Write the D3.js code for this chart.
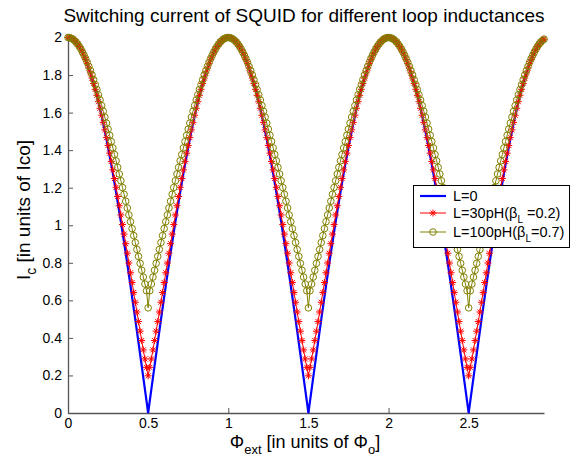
<!DOCTYPE html>
<html><head><meta charset="utf-8">
<script src="https://cdn.jsdelivr.net/npm/d3@7"></script>
<style>
body{margin:0;background:#fff}
text{font-family:"Liberation Sans",Arial,Helvetica,sans-serif;fill:#000}
</style>
</head><body>
<svg id="chart" width="571" height="463"></svg>
<script>
// flux step of the samples (in units of Phi_0)
const phiStep = 0.01;
const phiMax = 2.97;

// L = 0
const icL0 = [
2.000,1.999,1.996,1.991,1.984,1.975,1.965,1.952,1.937,1.921,1.902,1.882,1.860,1.836,1.810,1.782,1.753,1.721,1.689,1.654,1.618,1.580,1.541,1.500,1.458,1.414,1.369,1.323,1.275,1.226,1.176,1.124,1.072,1.018,0.964,0.908,0.852,0.794,0.736,0.677,0.618,0.558,0.497,0.436,0.375,0.313,0.251,0.188,0.126,0.063,0,
0.063,0.126,0.188,0.251,0.313,0.375,0.436,0.497,0.558,0.618,0.677,0.736,0.794,0.852,0.908,0.964,1.018,1.072,1.124,1.176,1.226,1.275,1.323,1.369,1.414,1.458,1.500,1.541,1.580,1.618,1.654,1.689,1.721,1.753,1.782,1.810,1.836,1.860,1.882,1.902,1.921,1.937,1.952,1.965,1.975,1.984,1.991,1.996,1.999,
2.000,1.999,1.996,1.991,1.984,1.975,1.965,1.952,1.937,1.921,1.902,1.882,1.860,1.836,1.810,1.782,1.753,1.721,1.689,1.654,1.618,1.580,1.541,1.500,1.458,1.414,1.369,1.323,1.275,1.226,1.176,1.124,1.072,1.018,0.964,0.908,0.852,0.794,0.736,0.677,0.618,0.558,0.497,0.436,0.375,0.313,0.251,0.188,0.126,0.063,0,
0.063,0.126,0.188,0.251,0.313,0.375,0.436,0.497,0.558,0.618,0.677,0.736,0.794,0.852,0.908,0.964,1.018,1.072,1.124,1.176,1.226,1.275,1.323,1.369,1.414,1.458,1.500,1.541,1.580,1.618,1.654,1.689,1.721,1.753,1.782,1.810,1.836,1.860,1.882,1.902,1.921,1.937,1.952,1.965,1.975,1.984,1.991,1.996,1.999,
2.000,1.999,1.996,1.991,1.984,1.975,1.965,1.952,1.937,1.921,1.902,1.882,1.860,1.836,1.810,1.782,1.753,1.721,1.689,1.654,1.618,1.580,1.541,1.500,1.458,1.414,1.369,1.323,1.275,1.226,1.176,1.124,1.072,1.018,0.964,0.908,0.852,0.794,0.736,0.677,0.618,0.558,0.497,0.436,0.375,0.313,0.251,0.188,0.126,0.063,0,
0.063,0.126,0.188,0.251,0.313,0.375,0.436,0.497,0.558,0.618,0.677,0.736,0.794,0.852,0.908,0.964,1.018,1.072,1.124,1.176,1.226,1.275,1.323,1.369,1.414,1.458,1.500,1.541,1.580,1.618,1.654,1.689,1.721,1.753,1.782,1.810,1.836,1.860,1.882,1.902,1.921,1.937,1.952,1.965,1.975,1.984,1.991
];

// L = 30 pH (beta_L = 0.2)
const icL30 = [
2.000,1.999,1.996,1.991,1.984,1.976,1.965,1.952,1.938,1.921,1.903,1.883,1.861,1.837,1.811,1.784,1.755,1.724,1.692,1.658,1.623,1.586,1.548,1.508,1.467,1.425,1.384,1.340,1.295,1.249,1.202,1.153,1.104,1.055,1.004,0.953,0.902,0.851,0.799,0.747,0.695,0.642,0.590,0.538,0.487,0.436,0.386,0.336,0.288,0.243,0.198,
0.243,0.288,0.336,0.386,0.436,0.487,0.538,0.590,0.642,0.695,0.747,0.799,0.851,0.902,0.953,1.004,1.055,1.104,1.153,1.202,1.249,1.295,1.340,1.384,1.425,1.467,1.508,1.548,1.586,1.623,1.658,1.692,1.724,1.755,1.784,1.811,1.837,1.861,1.883,1.903,1.921,1.938,1.952,1.965,1.976,1.984,1.991,1.996,1.999,
2.000,1.999,1.996,1.991,1.984,1.976,1.965,1.952,1.938,1.921,1.903,1.883,1.861,1.837,1.811,1.784,1.755,1.724,1.692,1.658,1.623,1.586,1.548,1.508,1.467,1.425,1.384,1.340,1.295,1.249,1.202,1.153,1.104,1.055,1.004,0.953,0.902,0.851,0.799,0.747,0.695,0.642,0.590,0.538,0.487,0.436,0.386,0.336,0.288,0.243,0.198,
0.243,0.288,0.336,0.386,0.436,0.487,0.538,0.590,0.642,0.695,0.747,0.799,0.851,0.902,0.953,1.004,1.055,1.104,1.153,1.202,1.249,1.295,1.340,1.384,1.425,1.467,1.508,1.548,1.586,1.623,1.658,1.692,1.724,1.755,1.784,1.811,1.837,1.861,1.883,1.903,1.921,1.938,1.952,1.965,1.976,1.984,1.991,1.996,1.999,
2.000,1.999,1.996,1.991,1.984,1.976,1.965,1.952,1.938,1.921,1.903,1.883,1.861,1.837,1.811,1.784,1.755,1.724,1.692,1.658,1.623,1.586,1.548,1.508,1.467,1.425,1.384,1.340,1.295,1.249,1.202,1.153,1.104,1.055,1.004,0.953,0.902,0.851,0.799,0.747,0.695,0.642,0.590,0.538,0.487,0.436,0.386,0.336,0.288,0.243,0.198,
0.243,0.288,0.336,0.386,0.436,0.487,0.538,0.590,0.642,0.695,0.747,0.799,0.851,0.902,0.953,1.004,1.055,1.104,1.153,1.202,1.249,1.295,1.340,1.384,1.425,1.467,1.508,1.548,1.586,1.623,1.658,1.692,1.724,1.755,1.784,1.811,1.837,1.861,1.883,1.903,1.921,1.938,1.952,1.965,1.976,1.984,1.991
];

// L = 100 pH (beta_L = 0.7)
const icL100 = [
2.000,1.999,1.996,1.991,1.984,1.976,1.965,1.953,1.939,1.923,1.906,1.888,1.868,1.846,1.824,1.801,1.775,1.749,1.723,1.695,1.667,1.637,1.607,1.576,1.544,1.512,1.479,1.446,1.412,1.377,1.343,1.308,1.273,1.237,1.201,1.165,1.128,1.092,1.055,1.019,0.982,0.945,0.908,0.871,0.834,0.797,0.760,0.724,0.687,0.651,0.560,
0.651,0.687,0.724,0.760,0.797,0.834,0.871,0.908,0.945,0.982,1.019,1.055,1.092,1.128,1.165,1.201,1.237,1.273,1.308,1.343,1.377,1.412,1.446,1.479,1.512,1.544,1.576,1.607,1.637,1.667,1.695,1.723,1.749,1.775,1.801,1.824,1.846,1.868,1.888,1.906,1.923,1.939,1.953,1.965,1.976,1.984,1.991,1.996,1.999,
2.000,1.999,1.996,1.991,1.984,1.976,1.965,1.953,1.939,1.923,1.906,1.888,1.868,1.846,1.824,1.801,1.775,1.749,1.723,1.695,1.667,1.637,1.607,1.576,1.544,1.512,1.479,1.446,1.412,1.377,1.343,1.308,1.273,1.237,1.201,1.165,1.128,1.092,1.055,1.019,0.982,0.945,0.908,0.871,0.834,0.797,0.760,0.724,0.687,0.651,0.560,
0.651,0.687,0.724,0.760,0.797,0.834,0.871,0.908,0.945,0.982,1.019,1.055,1.092,1.128,1.165,1.201,1.237,1.273,1.308,1.343,1.377,1.412,1.446,1.479,1.512,1.544,1.576,1.607,1.637,1.667,1.695,1.723,1.749,1.775,1.801,1.824,1.846,1.868,1.888,1.906,1.923,1.939,1.953,1.965,1.976,1.984,1.991,1.996,1.999,
2.000,1.999,1.996,1.991,1.984,1.976,1.965,1.953,1.939,1.923,1.906,1.888,1.868,1.846,1.824,1.801,1.775,1.749,1.723,1.695,1.667,1.637,1.607,1.576,1.544,1.512,1.479,1.446,1.412,1.377,1.343,1.308,1.273,1.237,1.201,1.165,1.128,1.092,1.055,1.019,0.982,0.945,0.908,0.871,0.834,0.797,0.760,0.724,0.687,0.651,0.560,
0.651,0.687,0.724,0.760,0.797,0.834,0.871,0.908,0.945,0.982,1.019,1.055,1.092,1.128,1.165,1.201,1.237,1.273,1.308,1.343,1.377,1.412,1.446,1.479,1.512,1.544,1.576,1.607,1.637,1.667,1.695,1.723,1.749,1.775,1.801,1.824,1.846,1.868,1.888,1.906,1.923,1.939,1.953,1.965,1.976,1.984,1.991
];

const xTicks = [0, 0.5, 1, 1.5, 2, 2.5];
const yTicks = [0, 0.2, 0.4, 0.6, 0.8, 1, 1.2, 1.4, 1.6, 1.8, 2];
const legendLabels = [
  {main: "L=0", sub: null, rest: null},
  {main: "L=30pH(\u03B2", sub: "L", rest: " =0.2)"},
  {main: "L=100pH(\u03B2", sub: "L", rest: "=0.7)"}
];
const seriesColors = ["#0000ff", "#ff0000", "#808000"];

const svg = d3.select("#chart");
svg.append("rect").attr("width", 571).attr("height", 463).attr("fill", "#fff");

const x = d3.scaleLinear().domain([0, phiMax]).range([68, 544]);
const y = d3.scaleLinear().domain([0, 2]).range([413, 37.5]);

// axes (MATLAB style: ticks inward, only left & bottom)
const axisColor = "#555";
const gx = svg.append("g").attr("transform", "translate(0,413)")
  .call(d3.axisBottom(x).tickValues(xTicks).tickSize(-5).tickSizeOuter(0).tickPadding(5).tickFormat(d3.format("")));
const gy = svg.append("g").attr("transform", "translate(68,0)")
  .call(d3.axisLeft(y).tickValues(yTicks).tickSize(-5).tickSizeOuter(0).tickPadding(6).tickFormat(d3.format("")));
[gx, gy].forEach(g => {
  g.select(".domain").attr("stroke", axisColor).attr("stroke-width", 1.3);
  g.selectAll(".tick line").attr("stroke", axisColor);
  g.selectAll(".tick text").attr("font-size", 14).attr("fill", "#000")
    .attr("font-family", "'Liberation Sans', Arial, sans-serif");
});

const line = d3.line().x((d, i) => x(i * phiStep)).y(d => y(d));

// L=0
svg.append("path").datum(icL0).attr("d", line)
  .attr("fill", "none").attr("stroke", seriesColors[0]).attr("stroke-width", 2.2);

// L=30pH
const starPath = "M-3.5,0H3.5M0,-3.5V3.5M-2.5,-2.5L2.5,2.5M-2.5,2.5L2.5,-2.5";
svg.append("path").datum(icL30).attr("d", line)
  .attr("fill", "none").attr("stroke", seriesColors[1]).attr("stroke-width", 1);
svg.append("g").selectAll("path").data(icL30).join("path")
  .attr("transform", (d, i) => `translate(${x(i * phiStep)},${y(d)})`)
  .attr("d", starPath).attr("stroke", seriesColors[1]).attr("stroke-width", 1).attr("fill", "none");

// L=100pH
svg.append("path").datum(icL100).attr("d", line)
  .attr("fill", "none").attr("stroke", seriesColors[2]).attr("stroke-width", 1);
svg.append("g").selectAll("circle").data(icL100).join("circle")
  .attr("cx", (d, i) => x(i * phiStep)).attr("cy", d => y(d)).attr("r", 3.3)
  .attr("stroke", seriesColors[2]).attr("stroke-width", 1).attr("fill", "none");

// title
svg.append("text").attr("x", 304).attr("y", 22).attr("text-anchor", "middle")
  .attr("font-size", 19).text("Switching current of SQUID for different loop inductances");

// x label
const xl = svg.append("text").attr("x", 305).attr("y", 448).attr("text-anchor", "middle").attr("font-size", 18);
xl.append("tspan").text("\u03A6");
xl.append("tspan").attr("dy", 6).attr("font-size", 13).text("ext");
xl.append("tspan").attr("dy", -6).text(" [in units of \u03A6");
xl.append("tspan").attr("dy", 6).attr("font-size", 13).text("o");
xl.append("tspan").attr("dy", -6).text("]");

// y label
const yl = svg.append("text").attr("transform", "translate(30,210) rotate(-90)")
  .attr("text-anchor", "middle").attr("font-size", 19);
yl.append("tspan").text("I");
yl.append("tspan").attr("dy", 6).attr("font-size", 14).text("c");
yl.append("tspan").attr("dy", -6).text(" [in units of Ico]");

// legend
const lg = svg.append("g").attr("transform", "translate(413,185)");
lg.append("rect").attr("x", 0.5).attr("y", 0.5).attr("width", 156).attr("height", 62)
  .attr("fill", "#fff").attr("stroke", "#000").attr("stroke-width", 1);
const rowsY = [11, 28, 47];
legendLabels.forEach((lab, k) => {
  const ry = rowsY[k];
  lg.append("line").attr("x1", 7).attr("x2", 33).attr("y1", ry).attr("y2", ry)
    .attr("stroke", seriesColors[k]).attr("stroke-width", k === 0 ? 2.2 : 1);
  if (k === 1) lg.append("path").attr("d", starPath).attr("transform", `translate(20,${ry})`)
    .attr("stroke", seriesColors[1]).attr("fill", "none");
  if (k === 2) lg.append("circle").attr("cx", 20).attr("cy", ry).attr("r", 3.3)
    .attr("stroke", seriesColors[2]).attr("fill", "none");
  const t = lg.append("text").attr("x", 40).attr("y", ry + 5).attr("font-size", 14.5);
  t.append("tspan").text(lab.main);
  if (lab.sub) {
    t.append("tspan").attr("dy", 5).attr("font-size", 10).text(lab.sub);
    t.append("tspan").attr("dy", -5).text(lab.rest);
  }
});
</script>
</body></html>
